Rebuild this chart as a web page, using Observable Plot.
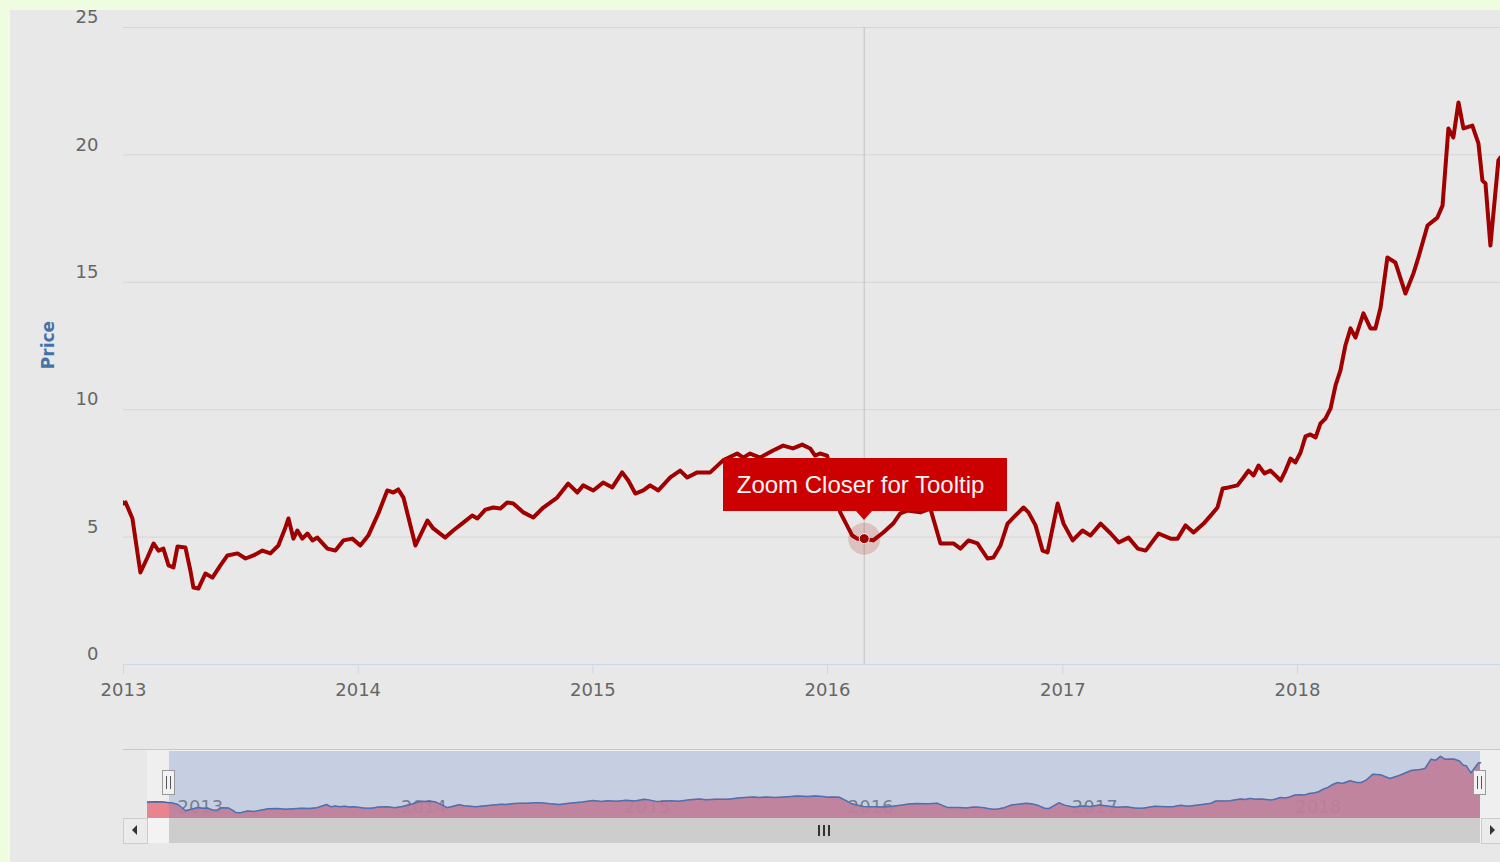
<!DOCTYPE html>
<html>
<head>
<meta charset="utf-8">
<script src="https://cdn.jsdelivr.net/npm/d3@7"></script>
<script src="https://cdn.jsdelivr.net/npm/@observablehq/plot@0.6"></script>
<style>
  html, body { margin: 0; padding: 0; }
  body { width: 1500px; height: 862px; overflow: hidden; position: relative; background: #f0fcdf; font-family: "DejaVu Sans", sans-serif; }
  .abs { position: absolute; }
  #chartbg { left: 10px; top: 10px; right: 0; bottom: 0; background: #e8e8e8; }
  svg { background: transparent; }
</style>
</head>
<body>
<div id="chartbg" class="abs"></div>
<div id="navlayer" class="abs" style="left:0;top:0;width:1500px;height:862px;"></div>
<div id="main" class="abs" style="left:0;top:0;"></div>
<div id="nav" class="abs" style="left:0;top:740px;"></div>
<div id="ui" class="abs" style="left:0;top:0;width:1500px;height:862px;"></div>
<script>
// ---- data (decimal year, price) ----
const years = [
  2012.902, 2012.940, 2012.975,
  2013.000, 2013.009, 2013.038, 2013.072, 2013.102, 2013.128, 2013.149, 2013.170, 2013.192, 2013.213,
  2013.230, 2013.264, 2013.285, 2013.298, 2013.319, 2013.349, 2013.379, 2013.413, 2013.443, 2013.486,
  2013.520, 2013.554, 2013.592, 2013.626, 2013.660, 2013.690, 2013.703, 2013.724, 2013.741, 2013.762,
  2013.784, 2013.805, 2013.826, 2013.869, 2013.903, 2013.937, 2013.975,
  2014.009, 2014.043, 2014.086, 2014.124, 2014.150, 2014.171, 2014.193, 2014.244, 2014.295, 2014.320,
  2014.371, 2014.405, 2014.448, 2014.486, 2014.508, 2014.542, 2014.576, 2014.606, 2014.635, 2014.661,
  2014.704, 2014.746, 2014.789, 2014.848, 2014.895, 2014.934, 2014.959,
  2015.002, 2015.044, 2015.083, 2015.125, 2015.151, 2015.181, 2015.215, 2015.244, 2015.279, 2015.330,
  2015.372, 2015.402, 2015.445, 2015.500, 2015.555, 2015.615, 2015.641, 2015.670, 2015.713, 2015.768,
  2015.811, 2015.853, 2015.892, 2015.926, 2015.947, 2015.968, 2015.998,
  2016.028, 2016.054, 2016.105, 2016.126, 2016.156, 2016.194, 2016.237, 2016.279, 2016.309, 2016.339,
  2016.394, 2016.437, 2016.480, 2016.535, 2016.565, 2016.599, 2016.637, 2016.680, 2016.705, 2016.735,
  2016.765, 2016.799, 2016.833, 2016.854, 2016.884, 2016.914, 2016.935, 2016.978,
  2017.003, 2017.042, 2017.084, 2017.118, 2017.161, 2017.204, 2017.238, 2017.280, 2017.319, 2017.353,
  2017.408, 2017.459, 2017.489, 2017.523, 2017.557, 2017.600, 2017.638, 2017.659, 2017.681, 2017.706,
  2017.744, 2017.770, 2017.791, 2017.813, 2017.834, 2017.859, 2017.885, 2017.906, 2017.928, 2017.949,
  2017.970, 2017.991,
  2018.013, 2018.034, 2018.055, 2018.077, 2018.098, 2018.119, 2018.141, 2018.162, 2018.183, 2018.204,
  2018.226, 2018.247, 2018.281, 2018.311, 2018.332, 2018.354, 2018.383, 2018.417, 2018.460, 2018.494,
  2018.515, 2018.554, 2018.596, 2018.618, 2018.643, 2018.664, 2018.686, 2018.707, 2018.745, 2018.771,
  2018.788, 2018.801, 2018.822, 2018.856, 2018.865
];
const prices = [
  6.60, 6.70, 6.60,
  6.32, 6.36, 5.73, 3.61, 4.20, 4.75, 4.47, 4.55, 3.89, 3.81,
  4.63, 4.59, 3.69, 3.02, 2.98, 3.57, 3.41, 3.89, 4.28, 4.36,
  4.16, 4.28, 4.47, 4.36, 4.67, 5.38, 5.73, 4.94, 5.26, 4.94,
  5.14, 4.87, 4.98, 4.55, 4.47, 4.87, 4.94,
  4.67, 5.06, 5.93, 6.83, 6.75, 6.87, 6.55, 4.67, 5.65, 5.34,
  4.98, 5.26, 5.57, 5.85, 5.73, 6.08, 6.16, 6.12, 6.36, 6.32,
  5.97, 5.77, 6.16, 6.55, 7.10, 6.75, 7.03,
  6.83, 7.14, 6.95, 7.54, 7.22, 6.71, 6.83, 7.03, 6.83, 7.34,
  7.61, 7.34, 7.54, 7.54, 8.01, 8.28, 8.12, 8.28, 8.12, 8.40,
  8.59, 8.48, 8.63, 8.48, 8.20, 8.28, 8.20,
  7.03, 5.97, 5.06, 4.94, 4.94, 4.87, 5.18, 5.53, 5.93, 6.04,
  5.97, 6.12, 4.75, 4.75, 4.55, 4.87, 4.75, 4.16, 4.20, 4.67,
  5.53, 5.85, 6.16, 5.97, 5.46, 4.47, 4.40, 6.32,
  5.53, 4.87, 5.26, 5.06, 5.53, 5.14, 4.79, 4.98, 4.55, 4.47,
  5.14, 4.94, 4.94, 5.46, 5.18, 5.53, 5.93, 6.16, 6.91, 6.95,
  7.03, 7.34, 7.61, 7.42, 7.81, 7.50, 7.61, 7.42, 7.22, 7.61,
  8.08, 7.93,
  8.32, 8.95, 9.03, 8.91, 9.46, 9.65, 10.05, 10.95, 11.54, 12.52,
  13.19, 12.83, 13.78, 13.19, 13.19, 14.01, 15.97, 15.78, 14.56, 15.35,
  15.97, 17.23, 17.54, 18.01, 21.04, 20.68, 22.06, 21.04, 21.15, 20.45,
  18.99, 18.88, 16.44, 19.78, 19.90
];
const yTicks = [0, 5, 10, 15, 20, 25];
const tickYears = [2013, 2014, 2015, 2016, 2017, 2018];
const viewStart = 2013.0, viewEnd = 2018.865, navStart = 2012.902;
const hoverYear = 2016.156;
const tooltipText = "Zoom Closer for Tooltip";
const yTitle = "Price";

// ---- helpers ----
function toDate(t) {
  const y = Math.floor(t);
  const a = Date.UTC(y, 0, 1), b = Date.UTC(y + 1, 0, 1);
  return new Date(a + (t - y) * (b - a));
}
const data = years.map((t, i) => ({date: toDate(t), price: prices[i]}));
const tickDates = tickYears.map(y => new Date(Date.UTC(y, 0, 1)));
const hover = data.reduce((best, d) => Math.abs(d.date - toDate(hoverYear)) < Math.abs(best.date - toDate(hoverYear)) ? d : best, data[0]);

// ---- main chart ----
const main = Plot.plot({
  width: 1500, height: 740,
  marginLeft: 123, marginRight: 0, marginTop: 27, marginBottom: 76,
  style: {fontFamily: "DejaVu Sans", fontSize: "18px", background: "transparent", overflow: "visible"},
  x: {type: "utc", domain: [toDate(viewStart), toDate(viewEnd)]},
  y: {domain: [0, 25]},
  marks: [
    Plot.gridY(yTicks, {stroke: "#d5d5d5", strokeOpacity: 1}),
    Plot.ruleY([0], {stroke: "#ccd6eb"}),
    Plot.axisY(yTicks, {tickSize: 0, tickPadding: 25, dy: -10, fill: "#666", label: null}),
    Plot.axisX(tickDates, {tickSize: 10, tickPadding: 9, stroke: "#ccd6eb", strokeOpacity: 1, fill: "#666", tickFormat: d3.utcFormat("%Y"), label: null}),
    Plot.ruleX([hover], {x: "date", stroke: "#c2c2c2"}),
    Plot.line(data, {x: "date", y: "price", stroke: "#a00000", strokeWidth: 4, clip: true, strokeLinejoin: "round"}),
    Plot.dot([hover], {x: "date", y: "price", r: 16, fill: "#a00000", fillOpacity: 0.17}),
    Plot.dot([hover], {x: "date", y: "price", r: 5, fill: "#a00000", stroke: "#ffffff", strokeWidth: 1})
  ]
});
document.getElementById("main").appendChild(main);

// ---- navigator ----
const nav = Plot.plot({
  width: 1500, height: 122,
  marginLeft: 147, marginRight: 20, marginTop: 11, marginBottom: 44,
  style: {fontFamily: "DejaVu Sans", fontSize: "18px", background: "transparent", overflow: "visible"},
  x: {type: "utc", domain: [toDate(navStart), toDate(viewEnd)], axis: null},
  y: {domain: [1, 23.67], axis: null},
  marks: [
    Plot.text(tickDates, {x: d => d, text: d => String(d.getUTCFullYear()), frameAnchor: "bottom", lineAnchor: "bottom", textAnchor: "start", dx: 8, dy: -6, fill: "#7d7d7d"}),
    Plot.areaY(data, {x: "date", y1: 1, y2: "price", fill: "#e77c88", fillOpacity: 0.93}),
    Plot.line(data, {x: "date", y: "price", stroke: "#4466a8", strokeWidth: 1.5}),
    Plot.rect([{a: toDate(viewStart), b: toDate(viewEnd)}], {x1: "a", x2: "b", fill: "rgb(102,133,194)", fillOpacity: 0.3})
  ]
});
document.getElementById("nav").appendChild(nav);

// ---- HTML decorations positioned from the scales ----
const xs = main.scale("x"), ys = main.scale("y");
const px = xs.apply(hover.date), py = ys.apply(hover.price);
const nx = nav.scale("x");
const hx1 = nx.apply(toDate(viewStart)), hx2 = nx.apply(toDate(viewEnd));
const navL = nx.range[0];

const ui = document.getElementById("ui");
const layer = document.getElementById("navlayer");
function box(parent, css, html) {
  const d = document.createElement("div");
  d.className = "abs";
  d.style.cssText += css;
  if (html) d.innerHTML = html;
  parent.appendChild(d);
  return d;
}
// navigator background + outline
box(layer, `left:${navL}px;top:750px;width:${1500 - navL}px;height:68px;background:#efefef;`);
box(layer, `left:123px;top:749px;width:1377px;height:1px;background:#c8c8c8;`);
// scrollbar
box(ui, `left:${navL}px;top:818px;width:${1500 - navL}px;height:25px;background:#f3f3f3;`);
box(ui, `left:${hx1}px;top:818px;width:${hx2 - hx1}px;height:25px;background:#cdcdcd;`);
box(ui, `left:123px;top:818px;width:23px;height:24px;background:#ebebeb;border:1px solid #cccccc;`);
box(ui, `left:132px;top:825px;width:0;height:0;border-top:5px solid transparent;border-bottom:5px solid transparent;border-right:5px solid #333;`);
box(ui, `left:${hx2 + 1}px;top:818px;width:19px;height:24px;background:#ebebeb;border-top:1px solid #cccccc;border-bottom:1px solid #cccccc;border-left:1px solid #cccccc;`);
box(ui, `left:${hx2 + 10}px;top:825px;width:0;height:0;border-top:5px solid transparent;border-bottom:5px solid transparent;border-left:5px solid #333;`);
const gx = (hx1 + hx2) / 2;
[-6, -1, 4].forEach(o => box(ui, `left:${gx + o}px;top:825px;width:2px;height:11px;background:#333;`));
// handles
[hx1, hx2].forEach(h => {
  box(ui, `left:${h - 7}px;top:770px;width:13px;height:25px;background:#f2f2f2;border:1px solid #999;box-sizing:border-box;`);
  box(ui, `left:${h - 3}px;top:776px;width:1px;height:13px;background:#555;`);
  box(ui, `left:${h + 1}px;top:776px;width:1px;height:13px;background:#555;`);
});
// y-axis title
box(ui, `left:48px;top:345px;transform:translate(-50%,-50%) rotate(-90deg);font:bold 17px 'DejaVu Sans';color:#4572a7;white-space:nowrap;`, yTitle);
// tooltip
box(ui, `left:${px - 141}px;top:${py - 80}px;width:270px;height:53px;padding-left:14px;background:#cc0000;color:#f6f6f6;font:24px 'Liberation Sans', Arial, sans-serif;line-height:53px;white-space:nowrap;`, tooltipText);
box(ui, `left:${px - 8}px;top:${py - 27}px;width:0;height:0;border-left:8px solid transparent;border-right:8px solid transparent;border-top:9px solid #cc0000;`);
</script>
</body>
</html>
